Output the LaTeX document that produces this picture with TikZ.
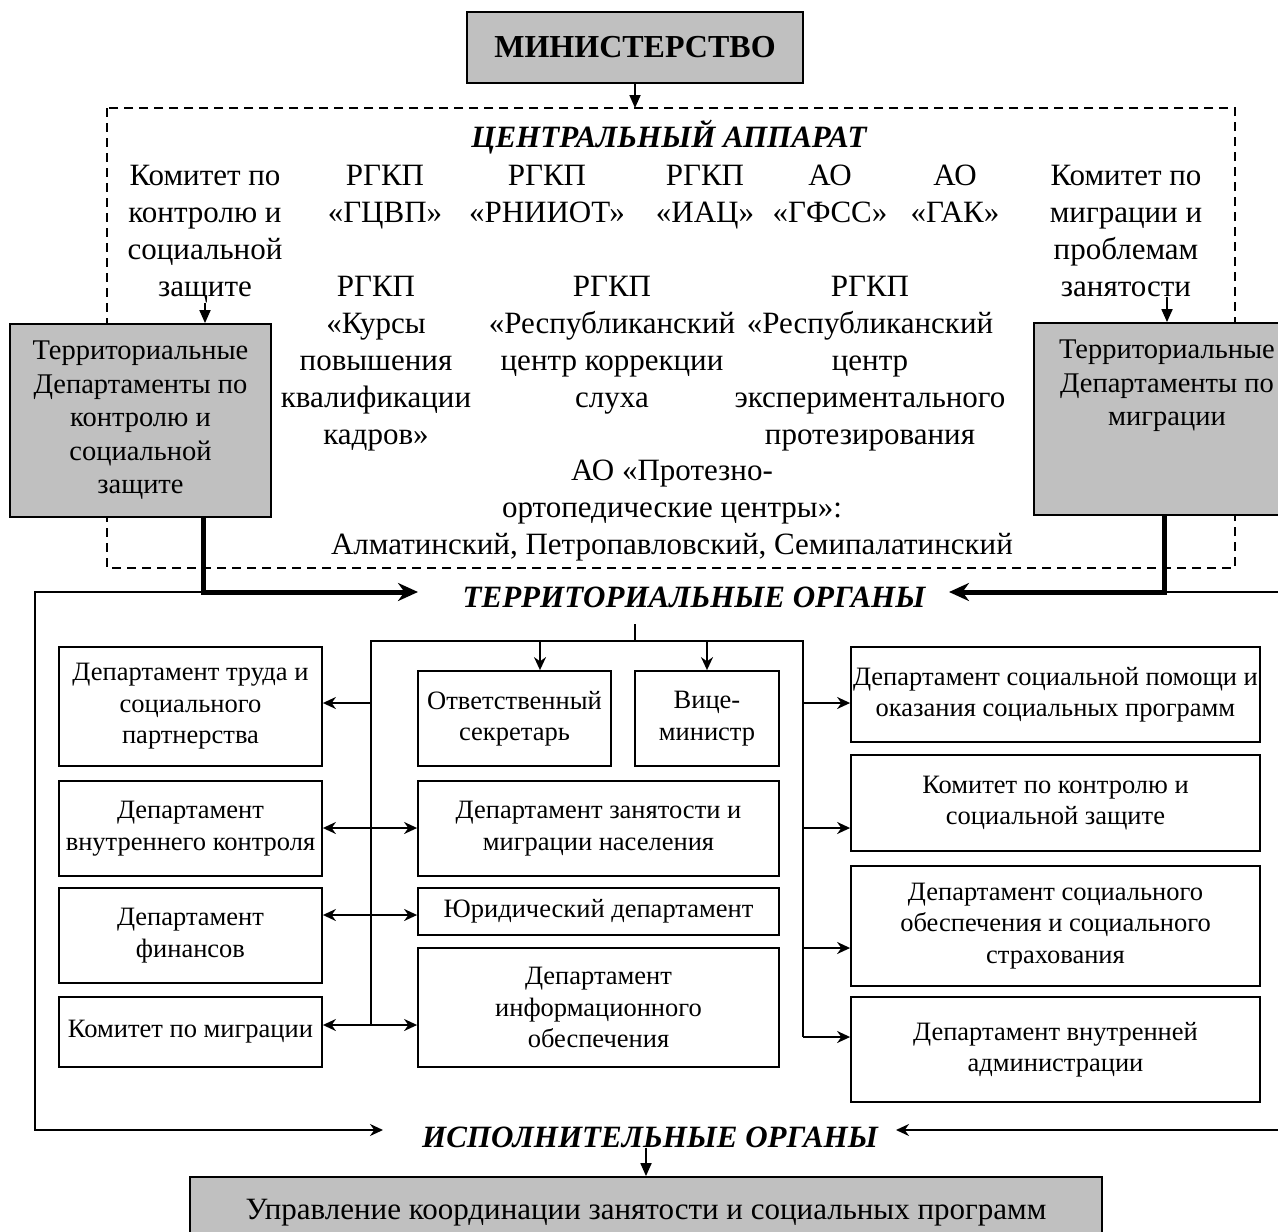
\documentclass[tikz,border=0pt]{standalone}
\usepackage{fontspec}
\setmainfont{Liberation Serif}
\usetikzlibrary{arrows.meta}
\definecolor{boxgray}{HTML}{C0C0C0}
\begin{document}
\begin{tikzpicture}[x=1pt,y=-1pt,
  box/.style={draw, line width=1.8pt, align=center, inner sep=0pt, font=\fontsize{26.5}{31.5}\selectfont},
  gbox/.style={box, fill=boxgray, font=\fontsize{28.5}{33.5}\selectfont},
  txt/.style={align=center, inner sep=0pt, anchor=north, font=\fontsize{31}{37}\selectfont},
  gtxt/.style={align=center, inner sep=0pt, font=\fontsize{28.5}{33.5}\selectfont},
  head/.style={inner sep=0pt, font=\fontsize{31}{37}\selectfont\bfseries\itshape},
  line/.style={line width=1.8pt},
  ar/.style={line, -{Stealth[length=13pt,width=12pt]}},
  dar/.style={line, {Stealth[length=13pt,width=12pt]}-{Stealth[length=13pt,width=12pt]}},
  tar/.style={line, -{Triangle[length=13pt,width=11pt]}},
  thar/.style={line width=5pt, -{Stealth[length=20pt,width=18pt]}},
  dbox/.style={dashed, line width=1.5pt, dash pattern=on 9pt off 6pt}
]
\useasboundingbox (0,0) rectangle (1278,1232);
\clip (0,0) rectangle (1278,1232);

% top
\node[gbox, minimum width=336pt, minimum height=71pt, font=\fontsize{32}{38}\selectfont\bfseries] (min) at (635,47.5) {МИНИСТЕРСТВО};
\coordinate (dtop) at (635,108);
\draw[tar] (min.south) -- (dtop);
\draw[dbox] (107,108) rectangle (1235,568);
\node[head] (cen) at (669,137) {ЦЕНТРАЛЬНЫЙ АППАРАТ};

% central apparatus texts
\node[txt] (kom1) at (205,159) {\strut Комитет по\\контролю и\\социальной\\защите};
\node[txt] (g1) at (385,159) {\strut РГКП\\«ГЦВП»};
\node[txt] (g2) at (547,159) {\strut РГКП\\«РНИИОТ»};
\node[txt] (g3) at (705,159) {\strut РГКП\\«ИАЦ»};
\node[txt] (ao1) at (830,159) {\strut АО\\«ГФСС»};
\node[txt] (ao2) at (955,159) {\strut АО\\«ГАК»};
\node[txt] (kom2) at (1126,159) {\strut Комитет по\\миграции и\\проблемам\\занятости};
\node[txt] (k1) at (376,270) {\strut РГКП\\«Курсы\\повышения\\квалификации\\кадров»};
\node[txt] (k2) at (612,270) {\strut РГКП\\«Республиканский\\центр коррекции\\слуха};
\node[txt] (k3) at (870,270) {\strut РГКП\\«Республиканский\\центр\\экспериментального\\протезирования};
\node[txt] (ao3) at (672,454) {\strut АО «Протезно-\\ортопедические центры»:\\Алматинский, Петропавловский, Семипалатинский};

% gray territorial boxes
\node[gbox, minimum width=261pt, minimum height=193pt] (lg) at (140.5,420.5) {Территориальные\\Департаменты по\\контролю и\\социальной\\защите};
\node[gbox, minimum width=266pt, minimum height=192pt] (rg) at (1167,419) {};
\node[gtxt] (rgt) at (1167,386) {Территориальные\\Департаменты по\\миграции};
\draw[tar] (kom1.south) -- (kom1.south |- lg.north);
\draw[tar] (rg.north |- kom2.south) -- (rg.north);

% territorial organs
\node[head] (torg) at (694,597) {ТЕРРИТОРИАЛЬНЫЕ ОРГАНЫ};
\coordinate (lc) at (203,592);
\coordinate (tl) at (418,592);
\coordinate (rc) at (1164,592);
\coordinate (tr) at (949,592);
\coordinate (lfar) at (35,1130);
\coordinate (il) at (383,1130);
\coordinate (rfar) at (1290,1130);
\coordinate (ir) at (896,1130);
\draw[ar] (lc) -| (lfar) -- (il);
\draw[ar] (rc) -| (rfar) -- (ir);
\draw[thar] (lg.south -| lc) -- (lc) -- (tl);
\draw[thar] (rg.south -| rc) -- (rc) -- (tr);

% boxes left
\node[box, minimum width=263pt, minimum height=119pt] (L1) at (190.5,706.5) {Департамент труда и\\социального\\партнерства};
\node[box, minimum width=263pt, minimum height=95pt] (L2) at (190.5,828.5) {Департамент\\внутреннего контроля};
\node[box, minimum width=263pt, minimum height=95pt] (L3) at (190.5,935.5) {Департамент\\финансов};
\node[box, minimum width=263pt, minimum height=70pt] (L4) at (190.5,1032) {Комитет по миграции};
% boxes middle
\node[box, minimum width=193pt, minimum height=95pt] (M1) at (514.5,718.5) {Ответственный\\секретарь};
\node[box, minimum width=144pt, minimum height=95pt] (M2) at (707,718.5) {Вице-\\министр};
\node[box, minimum width=361pt, minimum height=95pt] (M3) at (598.5,828.5) {Департамент занятости и\\миграции населения};
\node[box, minimum width=361pt, minimum height=47pt] (M4) at (598.5,911.5) {Юридический департамент};
\node[box, minimum width=361pt, minimum height=119pt] (M5) at (598.5,1007.5) {Департамент\\информационного\\обеспечения};
% boxes right
\node[box, minimum width=409pt, minimum height=95pt] (R1) at (1055.5,694.5) {Департамент социальной помощи и\\оказания социальных программ};
\node[box, minimum width=409pt, minimum height=96pt] (R2) at (1055.5,803) {Комитет по контролю и\\социальной защите};
\node[box, minimum width=409pt, minimum height=120pt] (R3) at (1055.5,926) {Департамент социального\\обеспечения и социального\\страхования};
\node[box, minimum width=409pt, minimum height=105pt] (R4) at (1055.5,1049.5) {Департамент внутренней\\администрации};

% hub
\coordinate (hubtop) at (635,641);
\coordinate (hl) at (371,641);
\coordinate (hr) at (803,641);
\coordinate (a1) at (371,703);
\coordinate (a2) at (371,828);
\coordinate (a3) at (371,915);
\coordinate (a4) at (371,1025);
\coordinate (b1) at (803,703);
\coordinate (b2) at (803,828);
\coordinate (b3) at (803,948);
\coordinate (b4) at (803,1037);
\coordinate (c1) at (540,641);
\draw[line] (hubtop) -- ++(0,-17);
\draw[line] (a4) -- (hl) -- (hr) -- (b4);
\draw[ar] (c1) -- (c1 |- M1.north);
\draw[ar] (M2.north |- hl) -- (M2.north);
\draw[ar] (a1) -- (a1 -| L1.east);
\draw[dar] (a2 -| L2.east) -- (a2 -| M3.west);
\draw[dar] (a3 -| L3.east) -- (a3 -| M4.west);
\draw[dar] (a4 -| L4.east) -- (a4 -| M5.west);
\draw[ar] (b1) -- (b1 -| R1.west);
\draw[ar] (b2) -- (b2 -| R2.west);
\draw[ar] (b3) -- (b3 -| R3.west);
\draw[ar] (b4) -- (b4 -| R4.west);

% executive organs
\node[head] (isp) at (650,1137) {ИСПОЛНИТЕЛЬНЫЕ ОРГАНЫ};
\node[gbox, minimum width=912pt, minimum height=72pt, font=\fontsize{31}{37}\selectfont] (bot) at (646,1213) {Управление координации занятости и социальных программ};
\draw[tar] (isp.south -| bot.north) -- (bot.north);
\end{tikzpicture}
\end{document}
